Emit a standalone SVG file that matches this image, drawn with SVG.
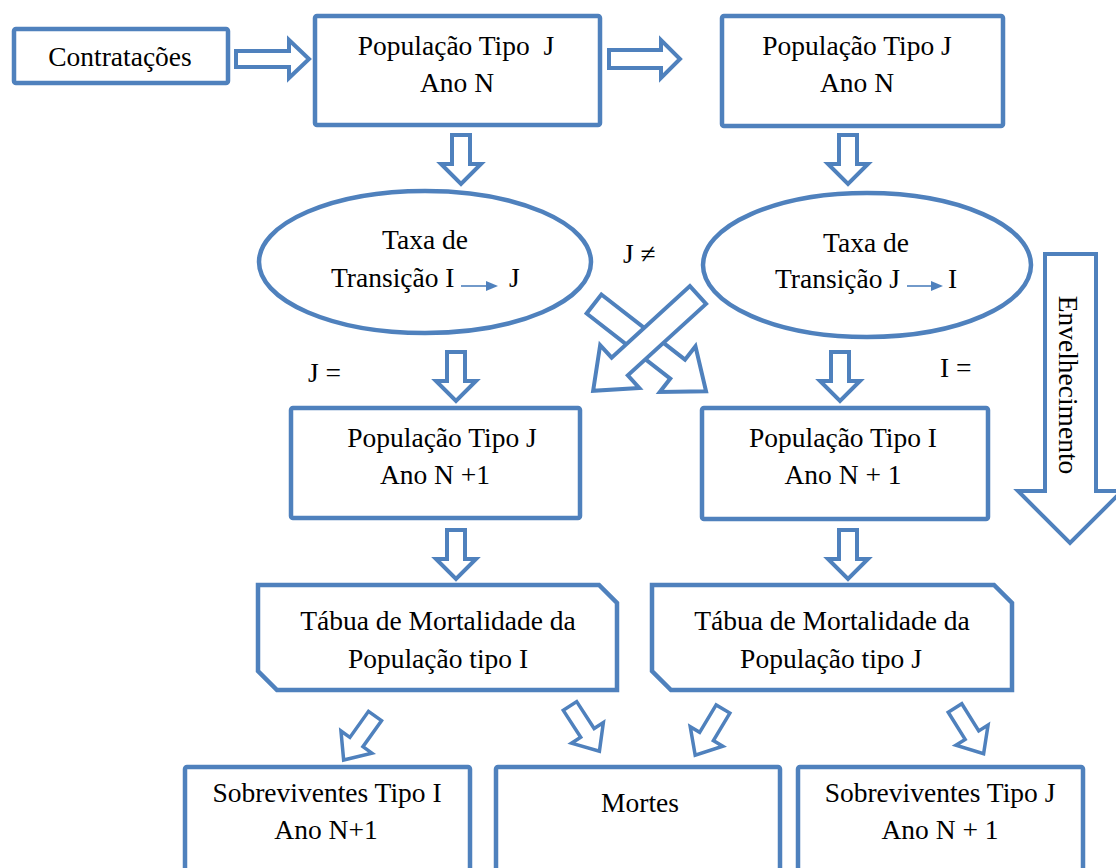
<svg xmlns="http://www.w3.org/2000/svg" width="1116" height="868" viewBox="0 0 1116 868">
<style>
.dg-box{fill:#fff;stroke:#4F81BD;stroke-width:4.5}
.dg-arr{fill:#fff;stroke:#4F81BD;stroke-width:4;stroke-linejoin:miter}
.dg-sarr{fill:#fff;stroke:#4F81BD;stroke-width:3.5}
</style>
<defs>
<polygon id="da" points="-9,0 9,0 9,29 20,29 0,49 -20,29 -9,29"/>
<polygon id="ca" points="0,-12 106,-12 106,-29 142,0 106,29 106,12 0,12"/>
<polygon id="sa" points="0,-8 32,-8 32,-19 54,0 32,19 32,8 0,8"/>
</defs>
<rect width="1116" height="868" fill="#fff"/>

<g id="connectors">
<polygon class="dg-arr" points="236,51 289,51 289,40 309,59 289,78 289,67 236,67"/>
<polygon class="dg-arr" points="609,50 661,50 661,40 680,59 661,78 661,68 609,68"/>
<use href="#da" class="dg-arr" transform="translate(461,135)"/>
<use href="#da" class="dg-arr" transform="translate(848,135)"/>
<use href="#da" class="dg-arr" transform="translate(456,352)"/>
<use href="#da" class="dg-arr" transform="translate(840,352)"/>
<use href="#da" class="dg-arr" transform="translate(456,530)"/>
<use href="#da" class="dg-arr" transform="translate(848,530)"/>
<use href="#ca" class="dg-arr" transform="translate(594,304) rotate(37.9)"/>
<use href="#ca" class="dg-arr" transform="translate(698,295) rotate(137.6)"/>
<use href="#sa" class="dg-sarr" transform="translate(375,716) rotate(125.5)"/>
<use href="#sa" class="dg-sarr" transform="translate(570,706) rotate(57)"/>
<use href="#sa" class="dg-sarr" transform="translate(723,709) rotate(121)"/>
<use href="#sa" class="dg-sarr" transform="translate(955,708) rotate(58)"/>
<polygon class="dg-arr" points="1045,254 1096,254 1096,491 1122,491 1070,543 1018,491 1045,491"/>
</g>

<g id="envelhecimento">
<text font-family="Liberation Serif" font-size="27.5" text-anchor="middle" transform="translate(1059,385) rotate(90)">Envelhecimento</text>
</g>

<g id="contratacoes">
<rect class="dg-box" x="14" y="29" width="214" height="54" rx="2"/>
<text font-family="Liberation Serif" font-size="27.5" text-anchor="middle" x="120" y="66">Contratações</text>
</g>

<g id="popJ-N-left">
<rect class="dg-box" x="315" y="16" width="285" height="109" rx="2"/>
<text font-family="Liberation Serif" font-size="27.5" text-anchor="middle" x="456" y="55" xml:space="preserve">População Tipo  J</text>
<text font-family="Liberation Serif" font-size="27.5" text-anchor="middle" x="457" y="92">Ano N</text>
</g>

<g id="popJ-N-right">
<rect class="dg-box" x="722" y="16" width="281" height="110" rx="2"/>
<text font-family="Liberation Serif" font-size="27.5" text-anchor="middle" x="857" y="55">População Tipo J</text>
<text font-family="Liberation Serif" font-size="27.5" text-anchor="middle" x="857" y="92">Ano N</text>
</g>

<g id="taxa-IJ">
<ellipse class="dg-box" cx="425" cy="262" rx="166" ry="71"/>
<text font-family="Liberation Serif" font-size="27.5" text-anchor="middle" x="425" y="249">Taxa de</text>
<text font-family="Liberation Serif" font-size="27.5" x="331" y="287">Transição I</text>
<line x1="461" y1="286" x2="488" y2="286" stroke="#4F81BD" stroke-width="1.6"/>
<polygon points="486,281 498,286 486,291" fill="#4F81BD"/>
<text font-family="Liberation Serif" font-size="27.5" x="509" y="287">J</text>
</g>

<g id="taxa-JI">
<ellipse class="dg-box" cx="867" cy="265" rx="164" ry="72"/>
<text font-family="Liberation Serif" font-size="27.5" text-anchor="middle" x="866" y="252">Taxa de</text>
<text font-family="Liberation Serif" font-size="27.5" x="775" y="288">Transição J</text>
<line x1="907" y1="286" x2="933" y2="286" stroke="#4F81BD" stroke-width="1.6"/>
<polygon points="931,281 943,286 931,291" fill="#4F81BD"/>
<text font-family="Liberation Serif" font-size="27.5" x="948" y="288">I</text>
</g>

<g id="labels">
<text font-family="Liberation Serif" font-size="27.5" x="623" y="263">J ≠</text>
<text font-family="Liberation Serif" font-size="27.5" x="308" y="382">J =</text>
<text font-family="Liberation Serif" font-size="27.5" x="940" y="377">I =</text>
</g>

<g id="popJ-N1">
<rect class="dg-box" x="291" y="408" width="289" height="110" rx="2"/>
<text font-family="Liberation Serif" font-size="27.5" text-anchor="middle" x="442" y="447">População Tipo J</text>
<text font-family="Liberation Serif" font-size="27.5" text-anchor="middle" x="435" y="484">Ano N +1</text>
</g>

<g id="popI-N1">
<rect class="dg-box" x="702" y="408" width="286" height="111" rx="2"/>
<text font-family="Liberation Serif" font-size="27.5" text-anchor="middle" x="843" y="447">População Tipo I</text>
<text font-family="Liberation Serif" font-size="27.5" text-anchor="middle" x="843" y="484">Ano N + 1</text>
</g>

<g id="tabua-I">
<path class="dg-box" d="M258,585 L599,585 L617,603 L617,690 L277,690 L258,671 Z"/>
<text font-family="Liberation Serif" font-size="27.5" text-anchor="middle" x="438" y="630">Tábua de Mortalidade da</text>
<text font-family="Liberation Serif" font-size="27.5" text-anchor="middle" x="438" y="668">População tipo I</text>
</g>

<g id="tabua-J">
<path class="dg-box" d="M652,585 L994,585 L1012,603 L1012,690 L671,690 L652,671 Z"/>
<text font-family="Liberation Serif" font-size="27.5" text-anchor="middle" x="832" y="630">Tábua de Mortalidade da</text>
<text font-family="Liberation Serif" font-size="27.5" text-anchor="middle" x="831" y="668">População tipo J</text>
</g>

<g id="sobreviventes-I">
<rect class="dg-box" x="185" y="767" width="285" height="120" rx="2"/>
<text font-family="Liberation Serif" font-size="27.5" text-anchor="middle" x="327" y="802">Sobreviventes Tipo I</text>
<text font-family="Liberation Serif" font-size="27.5" text-anchor="middle" x="326" y="839">Ano N+1</text>
</g>

<g id="mortes">
<rect class="dg-box" x="496" y="767" width="284" height="120" rx="2"/>
<text font-family="Liberation Serif" font-size="27.5" text-anchor="middle" x="640" y="812">Mortes</text>
</g>

<g id="sobreviventes-J">
<rect class="dg-box" x="798" y="767" width="285" height="120" rx="2"/>
<text font-family="Liberation Serif" font-size="27.5" text-anchor="middle" x="940" y="802">Sobreviventes Tipo J</text>
<text font-family="Liberation Serif" font-size="27.5" text-anchor="middle" x="940" y="839">Ano N + 1</text>
</g>
</svg>
